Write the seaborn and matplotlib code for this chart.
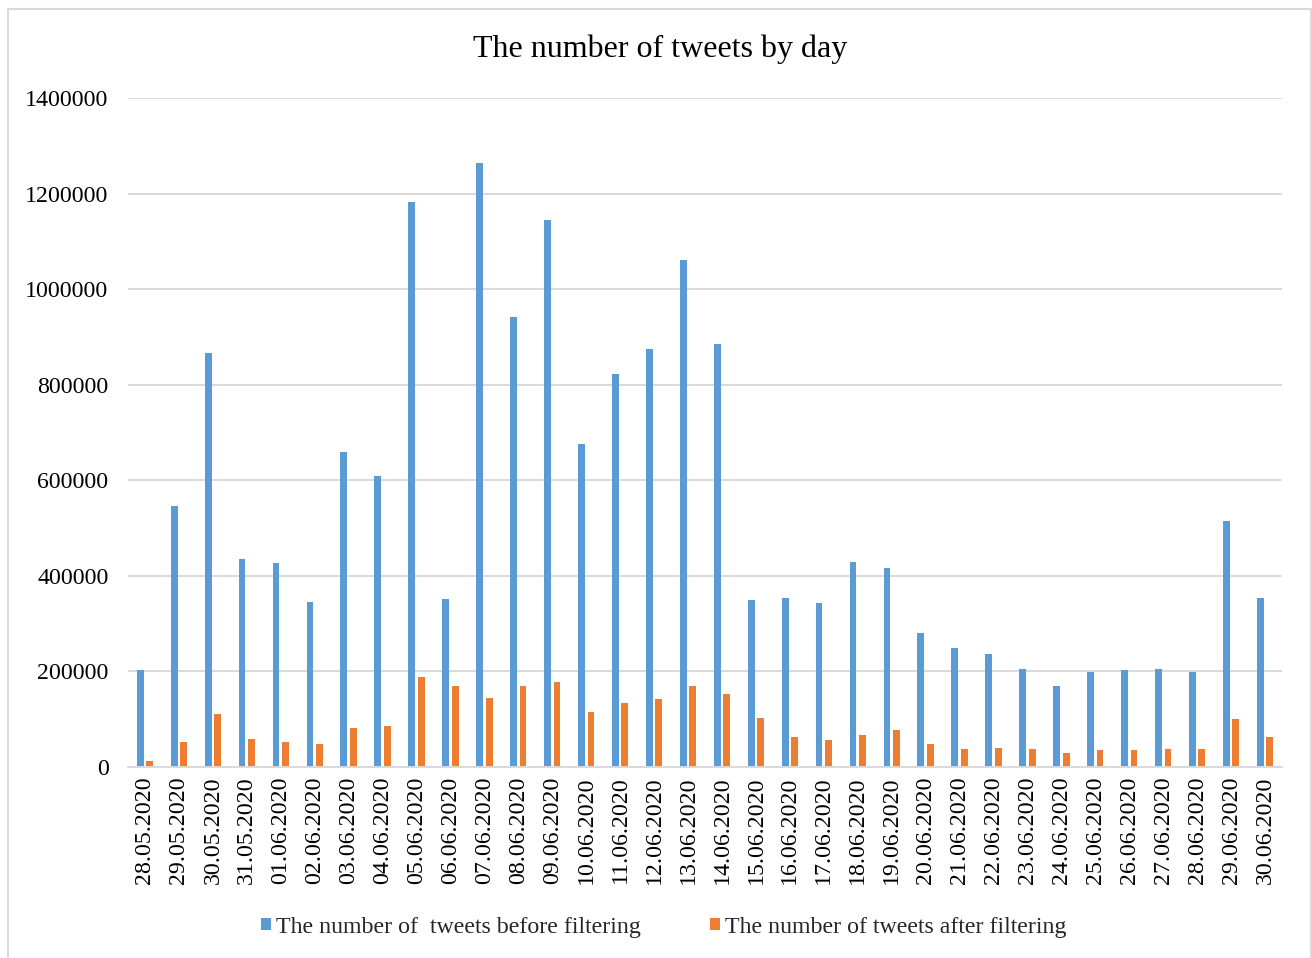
import matplotlib
matplotlib.use("Agg")
import matplotlib.pyplot as plt
from matplotlib.patches import Patch
from matplotlib.lines import Line2D
import numpy as np
import pandas as pd
import seaborn as sns

dates = [
    "28.05.2020", "29.05.2020", "30.05.2020", "31.05.2020", "01.06.2020",
    "02.06.2020", "03.06.2020", "04.06.2020", "05.06.2020", "06.06.2020",
    "07.06.2020", "08.06.2020", "09.06.2020", "10.06.2020", "11.06.2020",
    "12.06.2020", "13.06.2020", "14.06.2020", "15.06.2020", "16.06.2020",
    "17.06.2020", "18.06.2020", "19.06.2020", "20.06.2020", "21.06.2020",
    "22.06.2020", "23.06.2020", "24.06.2020", "25.06.2020", "26.06.2020",
    "27.06.2020", "28.06.2020", "29.06.2020", "30.06.2020",
]

before_filtering = [
    203000, 546000, 867000, 435000, 427000, 345000, 659000, 609000,
    1182000, 351000, 1265000, 942000, 1145000, 675000, 822000, 874000,
    1061000, 885000, 349000, 354000, 344000, 428000, 416000, 281000,
    250000, 237000, 206000, 170000, 199000, 204000, 205000, 198000,
    515000, 353000,
]

after_filtering = [
    12600, 52300, 110900, 58600, 53000, 48100, 81600, 85800,
    187600, 169500, 144400, 170200, 177900, 114400, 134600, 142300,
    169500, 152800, 101900, 62800, 57200, 67700, 77400, 48100,
    37700, 39800, 38300, 29900, 35600, 34900, 37000, 37000,
    99800, 62200,
]

series_names = [
    "The number of  tweets before filtering",
    "The number of tweets after filtering",
]
y_ticks = [0, 200000, 400000, 600000, 800000, 1000000, 1200000, 1400000]

df = pd.DataFrame({
    "date": dates * 2,
    "tweets": before_filtering + after_filtering,
    "series": [series_names[0]] * len(dates) + [series_names[1]] * len(dates),
})

sns.set_theme(style="white")
plt.rcParams["font.family"] = ["Liberation Serif", "DejaVu Serif"]

blue = "#5B9BD5"
orange = "#ED7D31"
grid_grey = "#D9D9D9"
tick_fs = 17.2

fig = plt.figure(figsize=(13.12, 9.58), dpi=100)
ax = fig.add_axes([128 / 1312, 1 - 767 / 958, (1282 - 128) / 1312, (767 - 98) / 958])

sns.barplot(
    data=df, x="date", y="tweets", hue="series", order=dates,
    hue_order=series_names, palette=[blue, orange], saturation=1,
    width=0.56, gap=0.28, dodge=True, ax=ax, legend=False,
    edgecolor="none", linewidth=0, zorder=3,
)

ax.set_xlim(-0.5, len(dates) - 0.5)
ax.set_ylim(0, 1400000)
ax.set_yticks(y_ticks)
ax.set_yticklabels([str(v) for v in y_ticks], fontsize=tick_fs, color="black")
ax.yaxis.grid(True, color=grid_grey, linewidth=1.4, zorder=0)
ax.set_axisbelow(True)
ax.set_xlabel("")
ax.set_ylabel("")

ax.set_xticks(range(len(dates)))
ax.set_xticklabels(dates, rotation=90, fontsize=tick_fs, color="black")
ax.tick_params(axis="x", which="major", length=0, pad=7)
ax.tick_params(axis="y", which="major", length=0, pad=14)
ax.set_xticks(np.arange(-0.5, len(dates), 1.0), minor=True)
ax.tick_params(axis="x", which="minor", length=7, width=1.4, color=grid_grey)

for side in ["top", "right", "left"]:
    ax.spines[side].set_visible(False)
ax.spines["bottom"].set_color(grid_grey)
ax.spines["bottom"].set_linewidth(1.4)
ax.spines["bottom"].set_zorder(4)

fig.text(660 / 1312, 1 - 49 / 958, "The number of tweets by day",
         ha="center", va="center", fontsize=23, color="black")

handles = [Patch(facecolor=blue, edgecolor="none"),
           Patch(facecolor=orange, edgecolor="none")]
fig.legend(handles, series_names, loc="center", bbox_to_anchor=(664 / 1312, 1 - 927 / 958),
           ncol=2, frameon=False, fontsize=tick_fs, handlelength=0.42, handleheight=0.42,
           handletextpad=0.2, columnspacing=2.9, borderpad=0)

# Light outer frame on left, top and right edges
frame_kw = dict(color=grid_grey, linewidth=1.5, transform=fig.transFigure)
fig.lines.append(Line2D([7.5 / 1312, 7.5 / 1312], [0, 1 - 8.5 / 958], **frame_kw))
fig.lines.append(Line2D([7.5 / 1312, 1310.5 / 1312], [1 - 8.5 / 958, 1 - 8.5 / 958], **frame_kw))
fig.lines.append(Line2D([1310.5 / 1312, 1310.5 / 1312], [0, 1 - 8.5 / 958], **frame_kw))

fig.savefig("out.png", dpi=100, facecolor="white")
